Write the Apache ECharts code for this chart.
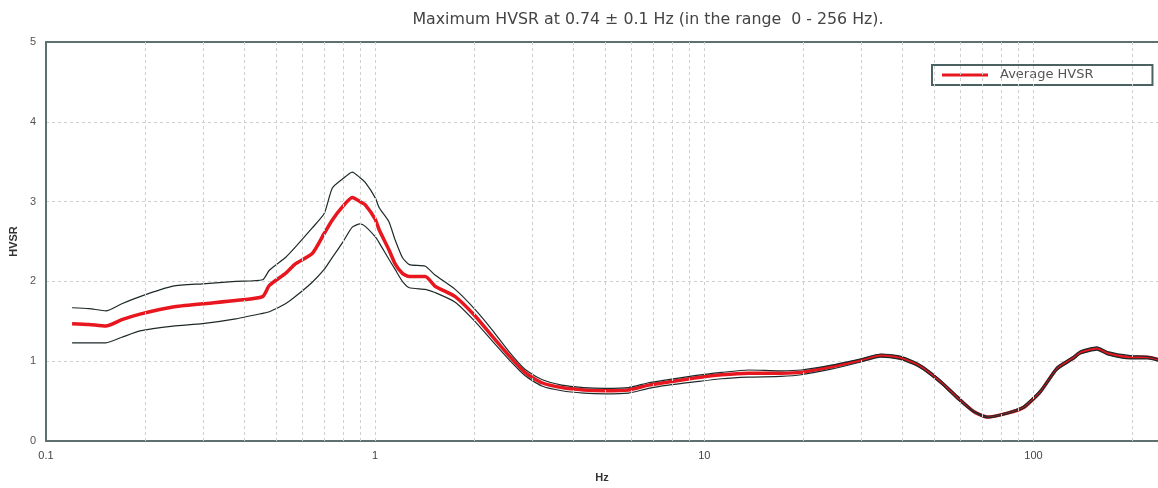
<!DOCTYPE html>
<html>
<head>
<meta charset="utf-8">
<script src="https://cdn.jsdelivr.net/npm/echarts@6/dist/echarts.min.js"></script>
<style>
html,body{margin:0;padding:0;background:#fff;overflow:hidden;}
#chart{width:100vw;height:100vh;}
</style>
</head>
<body>
<div id="chart"></div>
<script>
// Frequencies (Hz)
var freq = [0.12, 0.135, 0.152, 0.17, 0.193, 0.243, 0.299, 0.377, 0.455, 0.477, 0.534, 0.572, 0.644, 0.70, 0.741, 0.794, 0.852, 0.90, 0.933, 1.0, 1.03, 1.10, 1.15, 1.21, 1.27, 1.42, 1.52, 1.75, 2.01, 2.26, 2.55, 2.85, 3.21, 3.69, 4.3, 4.98, 5.88, 6.77, 7.78, 9.33, 11.3, 13.6, 17.1, 19.7, 24.3, 29.9, 34.4, 38.7, 43.3, 46.4, 52.3, 58.9, 65.8, 72.5, 83.4, 93.3, 105, 118, 132, 139, 156, 168, 197, 222, 256];
// Average HVSR
var avgHVSR = [1.47, 1.46, 1.44, 1.52, 1.59, 1.68, 1.72, 1.76, 1.81, 1.95, 2.10, 2.22, 2.35, 2.60, 2.77, 2.93, 3.05, 3.00, 2.96, 2.78, 2.64, 2.40, 2.22, 2.10, 2.06, 2.06, 1.94, 1.81, 1.57, 1.32, 1.07, 0.86, 0.73, 0.67, 0.64, 0.63, 0.64, 0.70, 0.74, 0.79, 0.83, 0.85, 0.85, 0.86, 0.93, 1.01, 1.07, 1.05, 0.98, 0.91, 0.74, 0.54, 0.37, 0.30, 0.35, 0.42, 0.62, 0.91, 1.04, 1.11, 1.16, 1.10, 1.05, 1.05, 0.98];
// Upper bound
var upperHVSR = [1.67, 1.66, 1.63, 1.72, 1.81, 1.94, 1.97, 2.00, 2.02, 2.14, 2.30, 2.43, 2.67, 2.85, 3.17, 3.28, 3.37, 3.30, 3.24, 3.05, 2.92, 2.75, 2.52, 2.30, 2.21, 2.19, 2.08, 1.90, 1.65, 1.40, 1.12, 0.90, 0.77, 0.70, 0.67, 0.66, 0.67, 0.73, 0.77, 0.82, 0.86, 0.89, 0.88, 0.89, 0.95, 1.03, 1.09, 1.07, 1.00, 0.93, 0.76, 0.56, 0.38, 0.31, 0.36, 0.44, 0.64, 0.93, 1.06, 1.13, 1.18, 1.12, 1.07, 1.06, 1.00];
// Lower bound
var lowerHVSR = [1.23, 1.23, 1.23, 1.30, 1.38, 1.44, 1.47, 1.53, 1.60, 1.62, 1.72, 1.81, 1.99, 2.15, 2.30, 2.48, 2.68, 2.72, 2.69, 2.56, 2.48, 2.28, 2.15, 2.00, 1.92, 1.90, 1.86, 1.74, 1.50, 1.26, 1.02, 0.82, 0.69, 0.63, 0.60, 0.59, 0.60, 0.66, 0.70, 0.74, 0.78, 0.80, 0.81, 0.83, 0.90, 0.99, 1.05, 1.03, 0.96, 0.89, 0.72, 0.52, 0.36, 0.29, 0.34, 0.41, 0.60, 0.89, 1.02, 1.09, 1.14, 1.08, 1.03, 1.03, 0.96];
// Vertical grid positions (Hz)
var vGrid = [0.2,0.3,0.4,0.5,0.6,0.7,0.8,0.9, 1, 2,3,4,5,6,7,8,9, 10, 20,30,40,50,60,70,80,90, 100, 200];
// Visible frequency range of the plot (right edge is cut by the picture)
var xMin = 0.1, xMax = 239;
var titleText = 'Maximum HVSR at 0.74 \u00b1 0.1 Hz (in the range  0 - 256 Hz).';

function pairs(ys){ return freq.map(function(f,i){ return [f, ys[i]]; }); }

var chart = echarts.init(document.getElementById('chart'), null, {renderer:'canvas'});
var frameColor = '#5f7070';
var gridDash = {color:'#cfcfcf', type:[3,3], width:1};
chart.setOption({
  animation:false,
  backgroundColor:'#fff',
  textStyle:{fontFamily:'Liberation Sans, Arial, sans-serif'},
  title:{
    text:titleText, left:643, top:7, textAlign:'center',
    textStyle:{fontFamily:'DejaVu Sans', fontSize:15.8, fontWeight:'normal', color:'#444'}
  },
  legend:{
    data:['Average HVSR'], left:932, top:65,
    icon:'rect', itemWidth:46, itemHeight:3, itemGap:0,
    padding:[3,59,3,10], borderColor:'#4a6262', borderWidth:2, backgroundColor:'#fff',
    textStyle:{fontFamily:'DejaVu Sans', fontSize:13, color:'#555', lineHeight:14, padding:[0,0,0,7]}
  },
  grid:{left:43, top:42, bottom:41, right:0, show:false, containLabel:false},
  xAxis:[{
    type:'log', logBase:10, min:xMin, max:xMax,
    name:'Hz', nameLocation:'middle', nameGap:31,
    nameTextStyle:{fontWeight:'bold', fontSize:11, color:'#333'},
    axisLine:{show:true, lineStyle:{color:frameColor, width:2}},
    axisTick:{show:false},
    axisLabel:{color:'#444', fontSize:11, margin:9, showMaxLabel:false,
      formatter:function(v){ return String(+Number(v).toPrecision(3)); }},
    splitLine:{show:false}
  },{
    type:'log', logBase:10, min:xMin, max:xMax, position:'top',
    axisLine:{show:true, onZero:false, lineStyle:{color:frameColor, width:2}},
    axisTick:{show:false}, axisLabel:{show:false}, splitLine:{show:false}
  }],
  yAxis:{
    type:'value', min:0, max:5, interval:1,
    name:'HVSR', nameLocation:'middle', nameGap:17,
    nameTextStyle:{fontWeight:'bold', fontSize:11, color:'#333'},
    axisLine:{show:true, lineStyle:{color:frameColor, width:2}},
    axisTick:{show:false},
    axisLabel:{color:'#555', fontSize:11, margin:10},
    splitLine:{show:true, lineStyle:gridDash}
  },
  series:[
    {
      name:'grid', type:'line', data:[], z:1, silent:true,
      markLine:{silent:true, symbol:['none','none'], label:{show:false}, animation:false,
        lineStyle:{color:'#cfcfcf', type:[3,3], width:1},
        emphasis:{disabled:true},
        data:vGrid.map(function(v){ return {xAxis:v}; })}
    },
    {name:'Average HVSR', type:'line', data:pairs(avgHVSR), symbol:'none', smooth:0.2, z:3,
      lineStyle:{color:'#e8161e', width:3.5}, itemStyle:{color:'#e8161e'}},
    {name:'Upper', type:'line', data:pairs(upperHVSR), symbol:'none', smooth:0.2, z:4,
      lineStyle:{color:'#1e2a2a', width:1.2}},
    {name:'Lower', type:'line', data:pairs(lowerHVSR), symbol:'none', smooth:0.2, z:4,
      lineStyle:{color:'#1e2a2a', width:1.2}}
  ]
});
</script>
</body>
</html>
